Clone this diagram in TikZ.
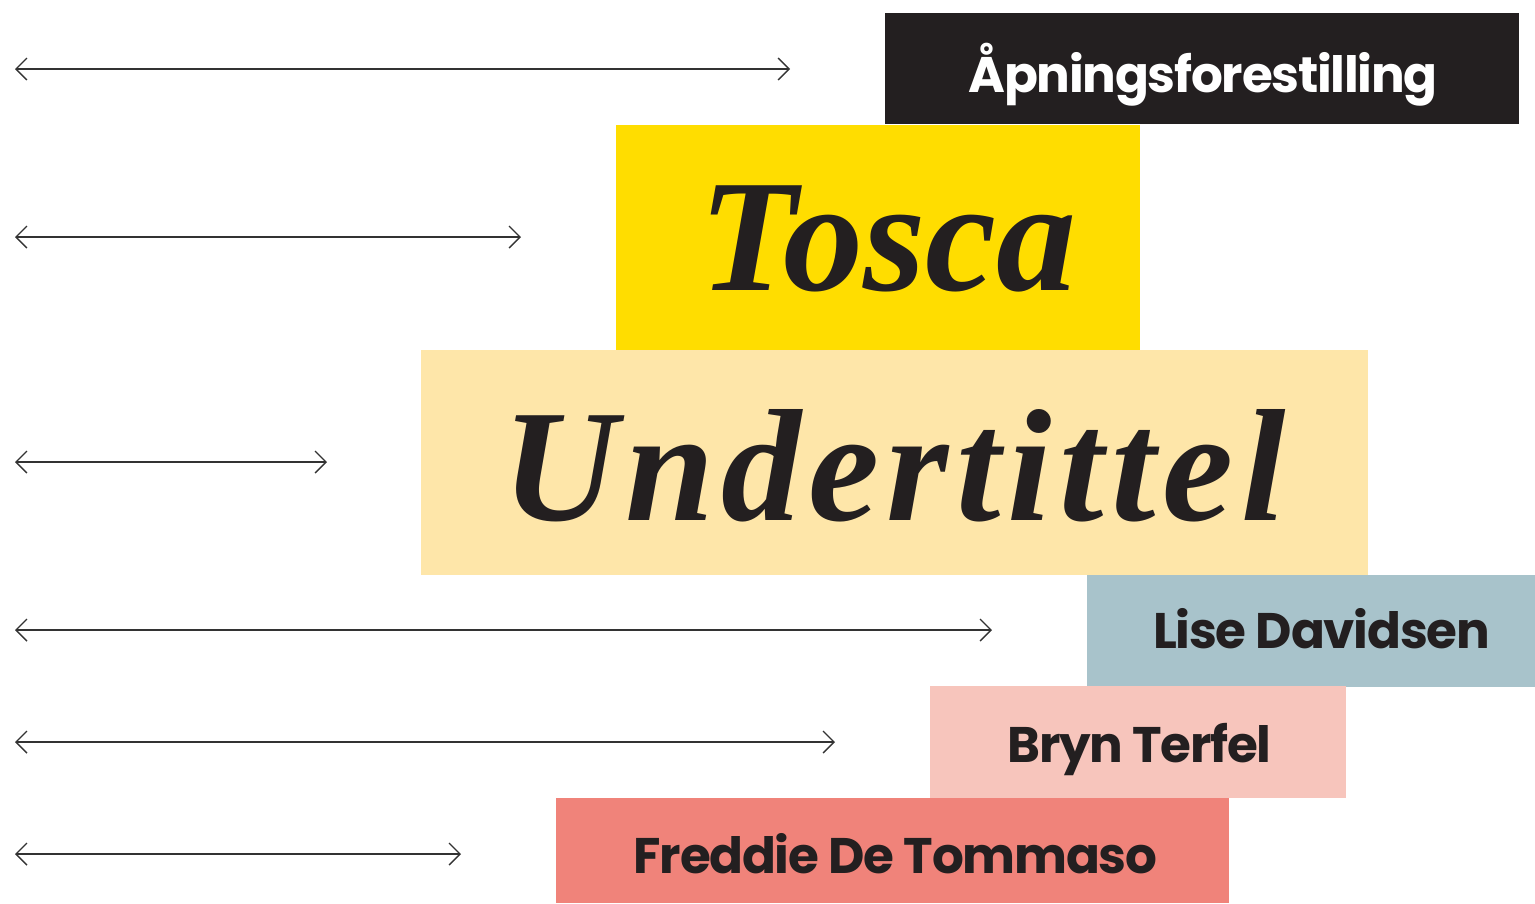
\documentclass[tikz,border=0pt]{standalone}
\usepackage{fontspec}
\usetikzlibrary{arrows.meta}
\newfontfamily\labelsans[LetterSpace=-2.5]{Poppins}
\newfontfamily\titleserif{Liberation Serif}
\newfontfamily\titleserifwide[LetterSpace=4.5]{Liberation Serif}
\definecolor{ink}{HTML}{231F20}
\definecolor{boxblack}{HTML}{231F20}
\definecolor{boxyellow}{HTML}{FFDD00}
\definecolor{boxcream}{HTML}{FEE6A9}
\definecolor{boxblue}{HTML}{A8C3CB}
\definecolor{boxpink}{HTML}{F7C5BC}
\definecolor{boxsalmon}{HTML}{F0837A}
\definecolor{rule}{HTML}{333333}
\tikzset{
  sanslabel/.style={anchor=base, inner sep=0pt, font=\labelsans\bfseries\fontsize{50}{58}\selectfont},
  seriflabel/.style={anchor=base, inner sep=0pt, font=\titleserif\bfseries\itshape\fontsize{160}{170}\selectfont},
  seriflabelwide/.style={anchor=base, inner sep=0pt, font=\titleserifwide\bfseries\itshape\fontsize{160}{170}\selectfont},
  measure/.style={draw=rule, line width=1.1pt, {Straight Barb[length=11pt,width=22pt,line width=1.4pt]}-{Straight Barb[length=11pt,width=22pt,line width=1.4pt]}}
}
\begin{document}
\begin{tikzpicture}[x=1pt,y=-1pt]
\useasboundingbox (0,0) rectangle (1535,903);
% bands
\fill[boxblack]  (885,13)  rectangle (1519,124);
\fill[boxyellow] (616,125) rectangle (1140,349.5);
\fill[boxcream]  (421,350) rectangle (1368,574.5);
\fill[boxblue]   (1087,575) rectangle (1535,686.5);
\fill[boxpink]   (930,686) rectangle (1346,797.5);
\fill[boxsalmon] (556,798) rectangle (1229,903);
% labels
\node[sanslabel, text=white] (t1) at (1203,92) {Åpningsforestilling};
\node[seriflabel, text=ink]  (t2) at (888,290) {Tosca};
\node[seriflabelwide, text=ink]  (t3) at (894,520) {Undertittel};
\node[sanslabel, text=ink]   (t4) at (1321.5,648) {Lise Davidsen};
\node[sanslabel, text=ink]   (t5) at (1139.5,762) {Bryn Terfel};
\node[sanslabel, text=ink]   (t6) at (895.5,873) {Freddie De Tommaso};
% measure arrows
\coordinate (a1) at (15,69);  \coordinate (b1) at (790,69);
\coordinate (a2) at (15,237); \coordinate (b2) at (521,237);
\coordinate (a3) at (15,462); \coordinate (b3) at (327,462);
\coordinate (a4) at (15,630); \coordinate (b4) at (992,630);
\coordinate (a5) at (15,742); \coordinate (b5) at (835,742);
\coordinate (a6) at (15,854); \coordinate (b6) at (461,854);
\foreach \i in {1,...,6} { \draw[measure] (a\i) -- (b\i); }
\end{tikzpicture}
\end{document}
